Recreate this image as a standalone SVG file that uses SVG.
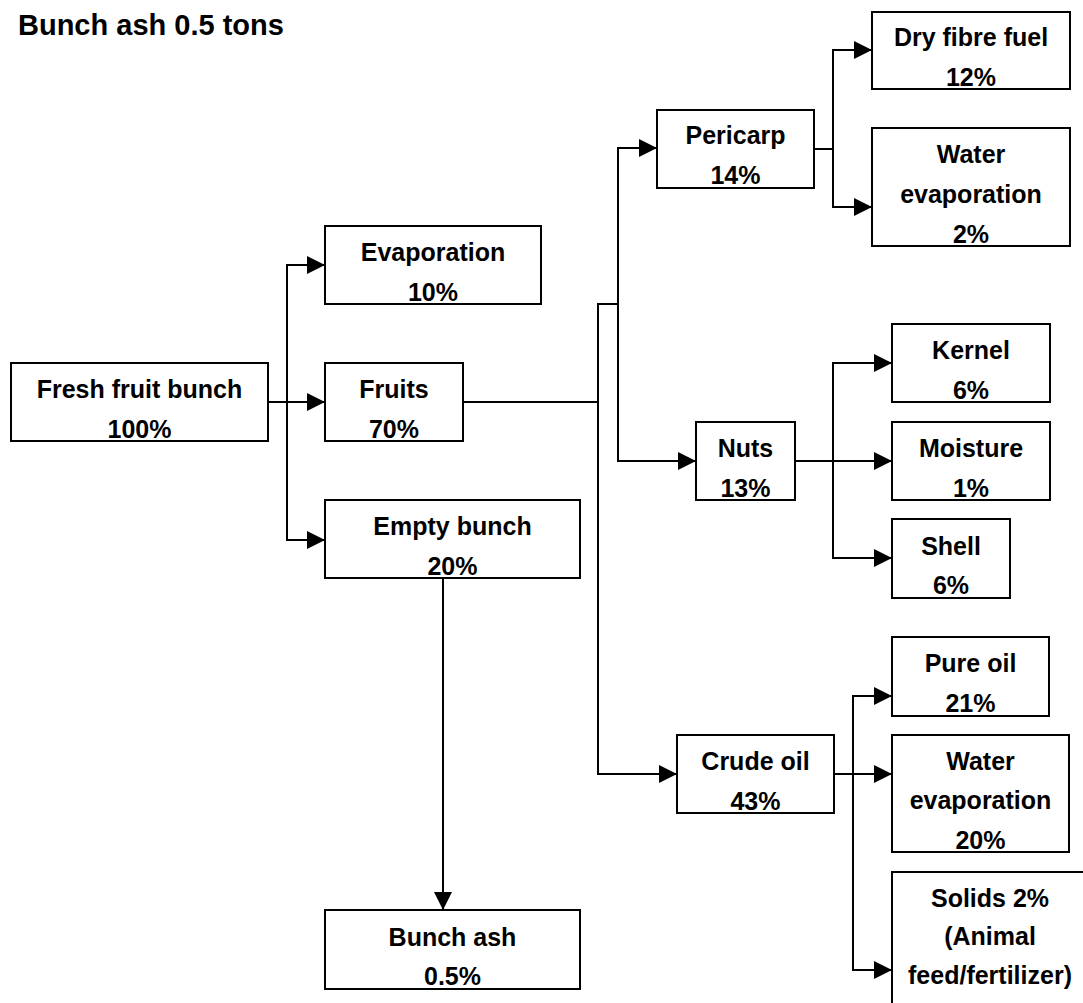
<svg xmlns="http://www.w3.org/2000/svg" width="1083" height="1003" viewBox="0 0 1083 1003">
<defs>
<style>
.box{fill:#fff;stroke:#000;stroke-width:2}
.t{font-family:"Liberation Sans",Arial,sans-serif;font-weight:bold;font-size:25px;fill:#000;text-anchor:middle}
.title{font-family:"Liberation Sans",Arial,sans-serif;font-weight:bold;font-size:29px;fill:#000}
.c{fill:none;stroke:#000;stroke-width:2}
</style>
<marker id="arr" markerUnits="userSpaceOnUse" markerWidth="18" markerHeight="18" refX="18" refY="9" orient="auto">
<path d="M0,0 L18,9 L0,18 z" fill="#000"/>
</marker>
</defs>
<rect width="1083" height="1003" fill="#fff"/>
<text class="title" x="18" y="35">Bunch ash 0.5 tons</text>

<g id="connectors">
<path class="c" d="M268,402 H325" marker-end="url(#arr)"/>
<path class="c" d="M287,402 V265 H325" marker-end="url(#arr)"/>
<path class="c" d="M287,402 V540 H325" marker-end="url(#arr)"/>
<path class="c" d="M463,402 H598 V304 H618 V148 H657" marker-end="url(#arr)"/>
<path class="c" d="M618,304 V461 H696" marker-end="url(#arr)"/>
<path class="c" d="M598,402 V774 H677" marker-end="url(#arr)"/>
<path class="c" d="M814,149 H833 V50 H872" marker-end="url(#arr)"/>
<path class="c" d="M833,149 V207 H872" marker-end="url(#arr)"/>
<path class="c" d="M795,461 H892" marker-end="url(#arr)"/>
<path class="c" d="M833,461 V363 H892" marker-end="url(#arr)"/>
<path class="c" d="M833,461 V558 H892" marker-end="url(#arr)"/>
<path class="c" d="M834,774 H892" marker-end="url(#arr)"/>
<path class="c" d="M853,774 V696 H892" marker-end="url(#arr)"/>
<path class="c" d="M853,774 V970 H892" marker-end="url(#arr)"/>
<path class="c" d="M443,578 V910" marker-end="url(#arr)"/>
</g>

<g id="fresh-fruit-bunch">
<rect class="box" x="11" y="363" width="257" height="78"/>
<text class="t" x="139.5" y="398">Fresh fruit bunch</text>
<text class="t" x="139.5" y="438">100%</text>
</g>
<g id="evaporation">
<rect class="box" x="325" y="226" width="216" height="78"/>
<text class="t" x="433" y="261">Evaporation</text>
<text class="t" x="433" y="301">10%</text>
</g>
<g id="fruits">
<rect class="box" x="325" y="363" width="138" height="78"/>
<text class="t" x="394" y="398">Fruits</text>
<text class="t" x="394" y="438">70%</text>
</g>
<g id="empty-bunch">
<rect class="box" x="325" y="500" width="255" height="78"/>
<text class="t" x="452.5" y="535">Empty bunch</text>
<text class="t" x="452.5" y="575">20%</text>
</g>
<g id="bunch-ash">
<rect class="box" x="325" y="910" width="255" height="79"/>
<text class="t" x="452.5" y="946">Bunch ash</text>
<text class="t" x="452.5" y="985">0.5%</text>
</g>
<g id="pericarp">
<rect class="box" x="657" y="110" width="157" height="78"/>
<text class="t" x="735.5" y="144">Pericarp</text>
<text class="t" x="735.5" y="184">14%</text>
</g>
<g id="dry-fibre-fuel">
<rect class="box" x="872" y="12" width="198" height="77"/>
<text class="t" x="971" y="46">Dry fibre fuel</text>
<text class="t" x="971" y="86">12%</text>
</g>
<g id="water-evaporation-1">
<rect class="box" x="872" y="128" width="198" height="118"/>
<text class="t" x="971" y="163">Water</text>
<text class="t" x="971" y="203">evaporation</text>
<text class="t" x="971" y="243">2%</text>
</g>
<g id="nuts">
<rect class="box" x="696" y="422" width="99" height="78"/>
<text class="t" x="745.5" y="457">Nuts</text>
<text class="t" x="745.5" y="497">13%</text>
</g>
<g id="kernel">
<rect class="box" x="892" y="324" width="158" height="78"/>
<text class="t" x="971" y="359">Kernel</text>
<text class="t" x="971" y="399">6%</text>
</g>
<g id="moisture">
<rect class="box" x="892" y="422" width="158" height="78"/>
<text class="t" x="971" y="457">Moisture</text>
<text class="t" x="971" y="497">1%</text>
</g>
<g id="shell">
<rect class="box" x="892" y="519" width="118" height="79"/>
<text class="t" x="951" y="555">Shell</text>
<text class="t" x="951" y="594">6%</text>
</g>
<g id="crude-oil">
<rect class="box" x="677" y="735" width="157" height="78"/>
<text class="t" x="755.5" y="770">Crude oil</text>
<text class="t" x="755.5" y="810">43%</text>
</g>
<g id="pure-oil">
<rect class="box" x="892" y="637" width="157" height="79"/>
<text class="t" x="970.5" y="672">Pure oil</text>
<text class="t" x="970.5" y="712">21%</text>
</g>
<g id="water-evaporation-2">
<rect class="box" x="892" y="735" width="177" height="117"/>
<text class="t" x="980.5" y="770">Water</text>
<text class="t" x="980.5" y="809">evaporation</text>
<text class="t" x="980.5" y="849">20%</text>
</g>
<g id="solids">
<rect class="box" x="892" y="872" width="196" height="150"/>
<text class="t" x="990" y="907">Solids 2%</text>
<text class="t" x="990" y="945">(Animal</text>
<text class="t" x="990" y="984">feed/fertilizer)</text>
</g>
</svg>
